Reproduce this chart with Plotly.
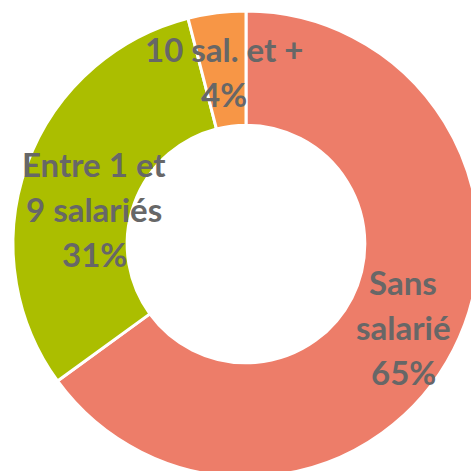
import plotly.graph_objects as go

labels = ["Sans salarié", "Entre 1 et 9 salariés", "10 sal. et +"]
label_lines = [["Sans", "salarié"], ["Entre 1 et", "9 salariés"], ["10 sal. et +"]]
values = [65, 31, 4]
colors = ["#ED7D69", "#ABBE00", "#F79646"]

W = H = 490
# label block centres (px, from top-left) and line spacing
label_pos = [(403, 282), (94, 164), (224, 49)]
line_gap = 45

fig = go.Figure(go.Pie(
    labels=labels, values=values, hole=0.51, sort=False,
    direction="clockwise", rotation=0,
    marker=dict(colors=colors, line=dict(color="white", width=3)),
    textinfo="none", hoverinfo="label+percent",
    domain=dict(x=[13 / W, 479 / W], y=[1 - 477 / H, 1 - 11 / H]),
    showlegend=False,
))

total = sum(values)
anns = []
for lines, v, (cx, cy) in zip(label_lines, values, label_pos):
    all_lines = lines + [f"{round(v / total * 100)}%"]
    for i, t in enumerate(all_lines):
        anns.append(dict(
            text=f"<b>{t}</b>", x=cx / W, y=1 - (cy + i * line_gap) / H,
            xref="paper", yref="paper", showarrow=False,
            xanchor="center", yanchor="middle",
            font=dict(family="Lato", size=33, color="#676767"),
        ))

fig.update_layout(
    width=W, height=H, margin=dict(l=0, r=0, t=0, b=0),
    paper_bgcolor="white", plot_bgcolor="white",
    annotations=anns,
)

fig.write_html("out.html", config={"displayModeBar": False}, post_script=(
    "document.body.style.margin='0';"
    "document.body.style.overflow='hidden';"
    "document.documentElement.style.overflow='hidden';"
))
